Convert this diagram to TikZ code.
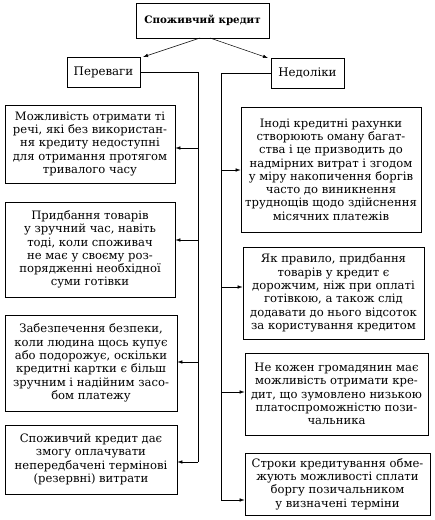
\documentclass[tikz,border=0pt]{standalone}
\usepackage{fontspec}
\setmainfont{DejaVu Serif}
\newfontfamily\boxfont{DejaVu Serif}
\usetikzlibrary{arrows.meta}
\begin{document}
\begin{tikzpicture}[x=1pt,y=-1pt,
  box/.style={draw,line width=0.8pt,align=center,inner sep=1pt,font=\boxfont\fontsize{11.6}{13.3}\selectfont},
  head/.style={draw,line width=0.8pt,align=center,inner sep=1pt},
  conn/.style={line width=0.5pt},
  arr/.style={conn,-{Latex[length=5pt,width=3.5pt]}}]
\useasboundingbox (0,0) rectangle (435,520);
\node[head,minimum width=133pt,minimum height=35pt,font=\boxfont\bfseries\fontsize{10.3}{12}\selectfont] (top) at (202.5,20.5) {Споживчий кредит};
\node[head,minimum width=73pt,minimum height=30pt,font=\boxfont\fontsize{11.8}{12}\selectfont] (per) at (103.5,72) {Переваги};
\node[head,minimum width=73pt,minimum height=30pt,font=\boxfont\fontsize{11.8}{12}\selectfont] (ned) at (307.5,73) {Недоліки};

\node[box,minimum width=170pt,minimum height=78pt] (l1) at (90,144) {Можливість отримати ті\\речі, які без використан-\\ня кредиту недоступні\\для отримання протягом\\тривалого часу};
\node[box,minimum width=170pt,minimum height=95pt] (l2) at (90,249.5) {Придбання товарів\\у зручний час, навіть\\тоді, коли споживач\\не має у своєму роз-\\порядженні необхідної\\суми готівки};
\node[box,minimum width=172pt,minimum height=96pt] (l3) at (91,363) {Забезпечення безпеки,\\коли людина щось купує\\або подорожує, оскільки\\кредитні картки є більш\\зручним і надійним засо-\\бом платежу};
\node[box,minimum width=172pt,minimum height=69pt] (l4) at (91,459.5) {Споживчий кредит дає\\змогу оплачувати\\непередбачені термінові\\(резервні) витрати};

\node[box,minimum width=180pt,minimum height=125pt] (r1) at (331,169.5) {Іноді кредитні рахунки\\створюють оману багат-\\ства і це призводить до\\надмірних витрат і згодом\\у міру накопичення боргів\\часто до виникнення\\труднощів щодо здійснення\\місячних платежів};
\node[box,minimum width=181pt,minimum height=92pt] (r2) at (333.5,293) {Як правило, придбання\\товарів у кредит є\\дорожчим, ніж при оплаті\\готівкою, а також слід\\додавати до нього відсоток\\за користування кредитом};
\node[box,minimum width=183pt,minimum height=82pt] (r3) at (336.5,394) {Не кожен громадянин має\\можливість отримати кре-\\дит, що зумовлено низькою\\платоспроможністю пози-\\чальника};
\node[box,minimum width=185pt,minimum height=62pt] (r4) at (337.5,484) {Строки кредитування обме-\\жують можливості сплати\\боргу позичальником\\у визначені терміни};

\coordinate (tl) at (200,38);
\coordinate (tr) at (210,38);
\coordinate (pe) at (143,57);
\coordinate (ne) at (268,58);
\draw[arr] (tl) -- (pe);
\draw[arr] (tr) -- (ne);

\coordinate (lv1) at (198,148);
\coordinate (lv2) at (198,240);
\coordinate (lv3) at (198,362);
\coordinate (lv4) at (198,462);
\draw[conn] (per.east) -| (lv4);
\draw[arr] (lv1) -- (l1.east |- lv1);
\draw[arr] (lv2) -- (l2.east |- lv2);
\draw[arr] (lv3) -- (l3.east |- lv3);
\draw[arr] (lv4) -- (l4.east |- lv4);

\coordinate (rv1) at (221,170);
\coordinate (rv2) at (221,287);
\coordinate (rv3) at (221,392);
\coordinate (rv4) at (221,500);
\draw[conn] (ned.west) -| (rv4);
\draw[arr] (rv1) -- (r1.west |- rv1);
\draw[arr] (rv2) -- (r2.west |- rv2);
\draw[arr] (rv3) -- (r3.west |- rv3);
\draw[arr] (rv4) -- (r4.west |- rv4);
\end{tikzpicture}
\end{document}
